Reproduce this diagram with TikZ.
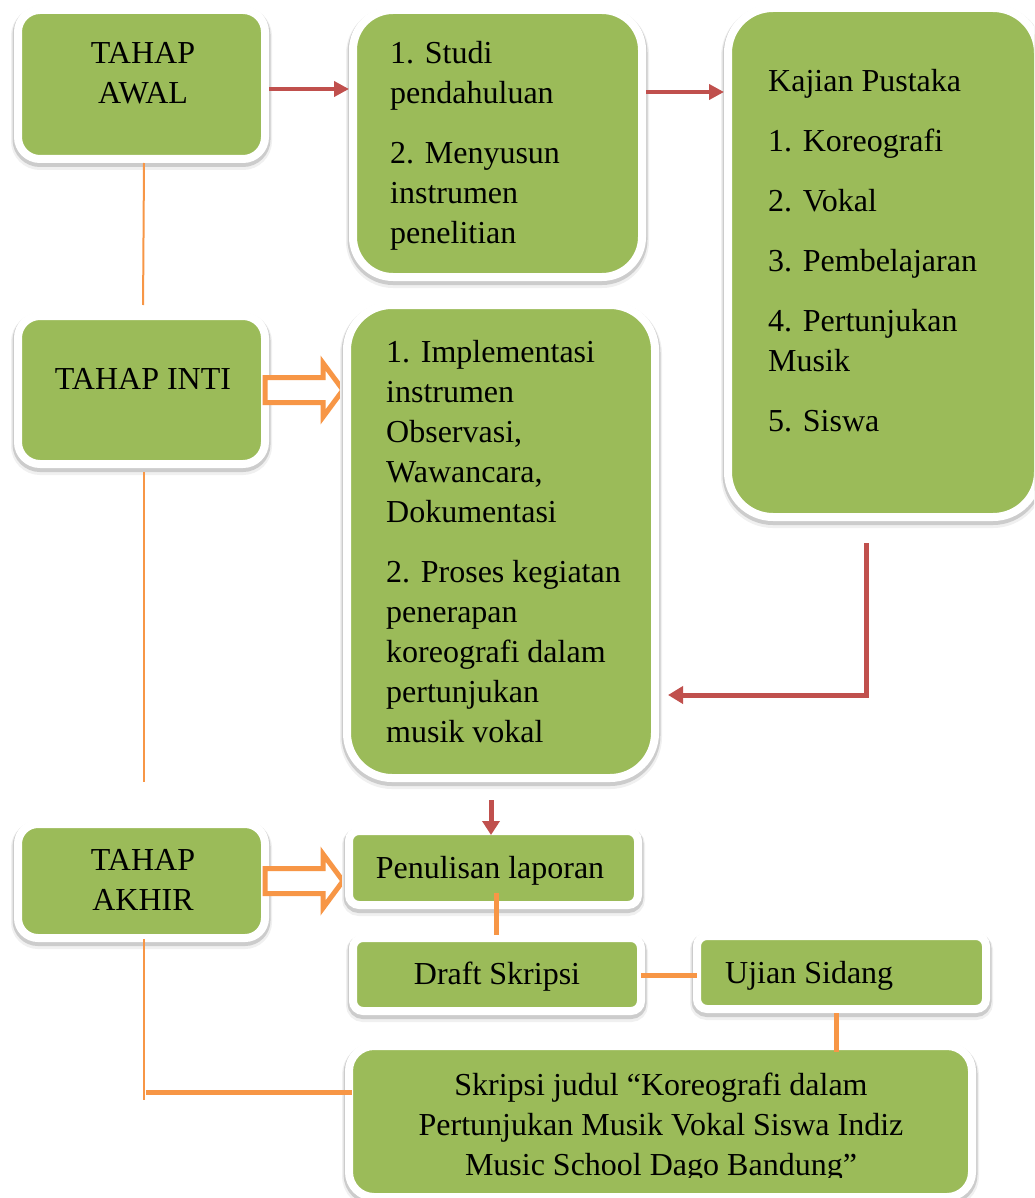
\documentclass[tikz,border=0pt]{standalone}
\usepackage{fontspec}
\setmainfont{Liberation Serif}
\usetikzlibrary{arrows.meta,calc}
\definecolor{boxgreen}{HTML}{9BBB59}
\definecolor{arrred}{HTML}{C0504D}
\definecolor{arrorange}{HTML}{F79646}
\begin{document}
\begin{tikzpicture}[x=1pt,y=-1pt,
  box/.style={fill=boxgreen, draw=white, line width=8pt, inner sep=0pt, outer sep=4pt,
    preaction={draw=black!6, line width=14pt, transform canvas={yshift=-4pt}},
    preaction={draw=black!20, line width=11pt, transform canvas={yshift=-2.5pt}}},
  txt/.style={font=\fontsize{32}{40}\selectfont, inner sep=0pt, text=black},
  redarrow/.style={draw=arrred, line width=4pt, -{Triangle[length=15pt,width=15pt]}},
  othin/.style={draw=arrorange, line width=2pt},
  othick/.style={draw=arrorange, line width=5pt},
  blockarrow/.style={draw=arrorange, line width=5pt, fill=white, line join=miter}
]
\useasboundingbox (0,0) rectangle (1034,1198);
\clip (0,0) rectangle (1034,1198);

% left column boxes
\node[box, rounded corners=22pt, minimum width=247pt, minimum height=149pt] (awal) at (141.5,84.5) {};
\node[box, rounded corners=22pt, minimum width=247pt, minimum height=148pt] (inti) at (141.5,390) {};
\node[box, rounded corners=20pt, minimum width=247pt, minimum height=114pt] (akhir) at (141.5,881) {};

% block arrows
\draw[blockarrow] ($(inti.east)+(-4,-12.5)$) -- ++(58,0) -- ++(0,-14.5) -- ++(20,27) -- ++(-20,27) -- ++(0,-14.5) -- ++(-58,0) -- cycle;
\draw[blockarrow] ($(akhir.east)+(-4,-12.5)$) -- ++(58,0) -- ++(0,-14.5) -- ++(20,27) -- ++(-20,27) -- ++(0,-14.5) -- ++(-58,0) -- cycle;

% other boxes
\node[box, rounded corners=40pt, minimum width=289pt, minimum height=267pt] (studi) at (497.5,143.5) {};
\node[box, rounded corners=45pt, minimum width=310pt, minimum height=509pt] (kajian) at (883,262.5) {};
\node[box, rounded corners=45pt, minimum width=308pt, minimum height=473pt] (impl) at (501,541.5) {};
\node[box, rounded corners=10pt, minimum width=289pt, minimum height=74pt] (penulisan) at (493.5,868) {};
\node[box, rounded corners=10pt, minimum width=288pt, minimum height=73pt] (draft) at (497,974.5) {};
\node[box, rounded corners=10pt, minimum width=289pt, minimum height=73pt] (ujian) at (841.5,972.5) {};
\node[box, rounded corners=25pt, minimum width=623pt, minimum height=151pt] (skripsi) at (660.5,1121.5) {};

% texts
\node[txt, anchor=north, align=center] (awal-t) at (143,35) {\strut TAHAP\\AWAL};
\node[txt, anchor=north, align=center] (inti-t) at (143,361) {\strut TAHAP INTI};
\node[txt, anchor=north, align=center] (akhir-t) at (143,842) {\strut TAHAP\\AKHIR};
\node[txt, anchor=north west, align=left] (studi-t) at (390,35) {\strut 1. Studi\\pendahuluan\\[20pt]2. Menyusun\\instrumen\\penelitian};
\node[txt, anchor=north west, align=left] (kajian-t) at (768,63) {\strut Kajian Pustaka\\[20pt]1. Koreografi\\[20pt]2. Vokal\\[20pt]3. Pembelajaran\\[20pt]4. Pertunjukan\\Musik\\[20pt]5. Siswa};
\node[txt, anchor=north west, align=left] (impl-t) at (386,334) {\strut 1. Implementasi\\instrumen\\Observasi,\\Wawancara,\\Dokumentasi\\[20pt]2. Proses kegiatan\\penerapan\\koreografi dalam\\pertunjukan\\musik vokal};
\node[txt, anchor=north] (pen-t) at (490,850) {\strut Penulisan laporan};
\node[txt, anchor=north] (draft-t) at (497,956) {\strut Draft Skripsi};
\node[txt, anchor=north west] (ujian-t) at (725,955) {\strut Ujian Sidang};
\begin{scope}
\clip (0,0) rectangle (1034,1177);
\node[txt, anchor=north, align=center] (skripsi-t) at (661,1067) {\strut Skripsi judul “Koreografi dalam\\Pertunjukan Musik Vokal Siswa Indiz\\Music School Dago Bandung”};
\end{scope}

% connectors
\draw[redarrow] (awal.east |- 0,89) -- (studi.west |- 0,89);
\draw[redarrow] (studi.east |- 0,92) -- (kajian.west |- 0,92);
\coordinate (elb) at (866,695);
\draw[redarrow, line width=5pt, -{Triangle[length=15pt,width=17pt]}, shorten <=22pt, shorten >=9pt] (kajian.south -| elb) -- (elb) -- (impl.east |- elb);
\draw[redarrow, line width=5pt, -{Triangle[length=14pt,width=17pt]}, shorten <=18pt, shorten >=-8pt] (impl.south -| 491,0) -- (penulisan.north -| 491,0);

\draw[othin, shorten >=7pt] (awal.south -| 144,0) -- (inti.north -| 143,0);
\draw[othin, shorten <=4pt, shorten >=38pt] (inti.south -| 144,0) -- (akhir.north -| 144,0);
\coordinate (corner) at (144,1092);
\draw[othin, shorten <=-3pt, shorten >=-8pt] (akhir.south -| corner) -- (corner);
\draw[othick, shorten <=2pt, shorten >=-7pt] (corner) -- (skripsi.west |- corner);
\draw[othick, shorten <=-16pt, shorten >=-1pt] (penulisan.south -| 496,0) -- (draft.north -| 496,0);
\draw[othick, shorten <=-4pt, shorten >=-4pt] (draft.east |- 0,975) -- (ujian.west |- 0,975);
\draw[othick, shorten >=-10pt] (ujian.south -| 836,0) -- (skripsi.north -| 836,0);
\end{tikzpicture}
\end{document}
